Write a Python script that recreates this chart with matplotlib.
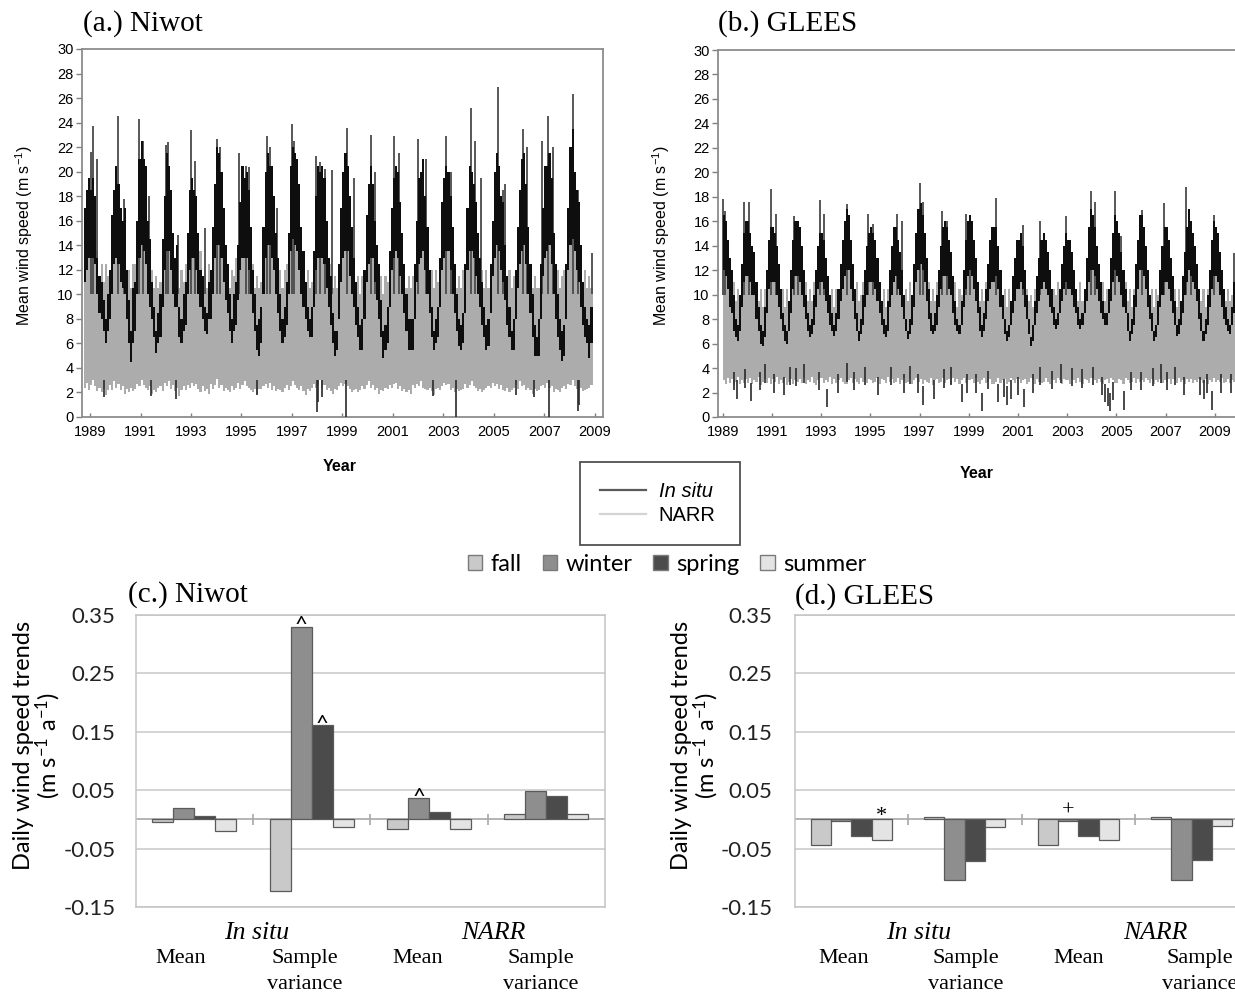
import numpy as np
import matplotlib
matplotlib.use("Agg")
import matplotlib.pyplot as plt
from matplotlib.patches import Patch
from matplotlib.lines import Line2D

plt.rcParams['font.family'] = ['Liberation Sans', 'DejaVu Sans']
plt.rcParams['axes.unicode_minus'] = False

# ---------------------------------------------------------------------------
# Daily wind speed at Niwot (monthly envelopes of the daily series, m/s).
# Rows are water years (Oct..Sep), first row starts October 1988.
# ---------------------------------------------------------------------------
niwot_start = 1988.75
niwot_insitu_hi = [
    [17, 18.5, 19.5, 18.5, 19.5, 18, 13, 11.5, 11, 9.5, 8, 10],
    [12, 16.5, 18.5, 20.5, 19, 17, 16, 17, 12, 9.5, 7, 10.5],
    [11, 16, 21, 22.5, 21, 20.5, 16, 14.5, 11, 9, 7, 8.5],
    [10, 14.5, 18, 21.5, 20.5, 18.5, 15, 13, 14, 9, 8, 10],
    [11, 15, 18.5, 19.5, 18.5, 18, 15, 12, 11.5, 9, 8.5, 11],
    [12, 15.5, 19, 22, 21.5, 20, 17, 14, 12.5, 10, 8, 10],
    [11, 14, 17.5, 20.5, 19.5, 20, 18.5, 15.5, 12, 10, 7.5, 8],
    [9, 15.5, 20, 21.5, 20.5, 20.5, 18, 15, 13, 10, 8, 9],
    [11, 15, 20.5, 22, 21.5, 21, 19, 15.5, 13.5, 11, 9, 8],
    [9, 13.5, 18, 20.5, 20, 20.5, 19.5, 16, 13, 11.5, 8.5, 7],
    [7, 12.5, 17, 20, 21.5, 20.5, 18, 15.5, 13, 11, 9, 7.5],
    [8, 12, 16.5, 19, 20.5, 19, 16, 14, 12.5, 9.5, 7, 7.5],
    [9, 13.5, 17, 19.5, 20.5, 20, 17.5, 15, 12.5, 10, 8, 8],
    [8, 12.5, 16, 19.5, 20, 21, 18, 15.5, 12, 9, 7, 8],
    [9, 13, 17.5, 19.5, 20.5, 20, 18, 15.5, 12.5, 10, 8, 7.5],
    [8.5, 12.5, 17, 20.5, 20, 19, 17.5, 15, 13, 11, 9, 7.5],
    [8, 12.5, 16, 20, 21.5, 20.5, 18, 17.5, 14, 11.5, 9, 7],
    [8, 12, 15.5, 18.5, 21, 21.5, 19, 15.5, 12.5, 10, 7.5, 6.5],
    [8, 12.5, 17, 20.5, 20.5, 21.5, 19.5, 15, 12.5, 10, 8, 7],
    [7.5, 12.5, 17, 22, 23.5, 20, 18.5, 17.5, 14, 11, 9, 8],
    [7.5, 9],
]
niwot_insitu_lo = [
    [11, 12, 13, 13, 13, 12.5, 10, 8.5, 8, 7, 6, 7],
    [8, 10, 12.5, 13, 12.5, 11, 10.5, 10, 8, 6, 4.5, 6],
    [7, 10, 13, 14, 13.5, 12.5, 10, 9, 8, 6.5, 5.2, 6],
    [6.5, 9, 12, 13.5, 13.5, 12, 10, 9, 9, 6.5, 6, 7],
    [7.5, 10, 12, 13, 13, 12, 10, 9, 8, 7, 6.8, 8],
    [8, 10, 13, 14, 14, 13, 11, 9.5, 8.5, 7, 6, 7],
    [7.5, 9.5, 12, 13, 13, 13, 12, 10, 8.5, 7, 5.5, 5],
    [6, 10, 13, 14, 14, 13, 12, 10, 8.5, 7, 6, 6.5],
    [7.5, 10, 13.5, 14.5, 14, 13.5, 12, 10, 9, 8, 7, 6.5],
    [6.5, 9, 12, 13, 13, 13, 12.5, 10.5, 9, 7.5, 6, 5],
    [5.5, 8, 11, 13, 13.5, 13.5, 11.5, 10, 9, 7.5, 6.5, 5.5],
    [5.5, 8, 11, 12.5, 13, 13, 11, 9.5, 8, 6.5, 4.8, 5.5],
    [6, 9, 12, 13, 13.5, 13, 11.5, 10, 8.5, 7, 5.5, 5.5],
    [5.5, 8, 11, 12.5, 13, 13.5, 12, 10, 8.5, 6.5, 5.5, 6],
    [6.5, 9, 12, 13, 13.5, 13.5, 12, 10, 8.5, 7, 5.8, 5.5],
    [6, 8.5, 12, 13.5, 13.5, 13, 11.5, 10, 9, 7.5, 6.5, 5.5],
    [5.8, 8.5, 11.5, 13, 14, 13.5, 12, 11, 9.5, 7.5, 6.5, 5.5],
    [5.5, 8, 10.5, 12.5, 13.5, 14, 12.5, 10, 8.5, 6.5, 5, 5],
    [5, 8, 11.5, 13, 13.5, 14, 12.5, 10, 8, 6.5, 5.5, 4.6],
    [5, 8, 12, 14, 14.5, 13.5, 12, 11, 9, 7.5, 6.5, 6],
    [4.8, 6],
]
niwot_narr_hi = [
    [12.5, 13.5, 13.5, 14, 13.5, 13, 13.5, 11.5, 12.5, 11, 12.5, 11.5],
    [11, 12.5, 13, 14, 13, 12, 11.5, 13, 10.5, 12, 10.5, 12.5],
    [12.5, 11.5, 14, 14.5, 14, 13, 12.5, 11, 12, 10.5, 11.5, 10.5],
    [11, 12.5, 12.5, 14, 14, 12.5, 13, 11, 12.5, 10.5, 12, 11],
    [12.5, 11.5, 13, 13.5, 13.5, 12.5, 11.5, 13.5, 11, 12, 10.5, 12.5],
    [11.5, 13, 13.5, 14.5, 14.5, 13.5, 12.5, 11, 12.5, 10.5, 12, 11.5],
    [13, 12, 13, 13.5, 13.5, 13.5, 12.5, 11.5, 12.5, 10.5, 11.5, 10.5],
    [11, 12.5, 13.5, 14.5, 14.5, 13.5, 12.5, 13, 11, 12, 10.5, 12],
    [12.5, 11.5, 14, 15, 14.5, 14, 12.5, 11.5, 12.5, 11, 12, 10.5],
    [11, 12.5, 12.5, 13.5, 13.5, 13.5, 13, 12.5, 11, 12.5, 10.5, 11.5],
    [10.5, 12.5, 11.5, 13.5, 14, 14, 12.5, 11, 12.5, 10.5, 11.5, 10],
    [11.5, 10.5, 12.5, 13, 13.5, 13.5, 11.5, 12.5, 10.5, 11.5, 10, 11.5],
    [11, 12.5, 12.5, 13.5, 14, 13.5, 12.5, 11, 12, 10.5, 11.5, 10.5],
    [11.5, 10.5, 12.5, 13, 13.5, 14, 12.5, 12.5, 10.5, 12, 10.5, 12],
    [11, 12.5, 12.5, 13.5, 14, 14, 12.5, 11, 12.5, 10.5, 11.5, 10.5],
    [12, 11, 12.5, 14, 14, 13.5, 12, 12.5, 11, 12, 10.5, 12],
    [10.5, 12.5, 12, 13.5, 14.5, 14, 12.5, 11.5, 12.5, 11, 12, 10.5],
    [11.5, 10.5, 12.5, 13, 14, 14.5, 13, 11, 12.5, 10.5, 11.5, 10.5],
    [10.5, 12.5, 12, 13.5, 14, 14.5, 13, 12.5, 11, 12, 10.5, 11.5],
    [12, 11, 12.5, 14.5, 15, 14, 12.5, 11.5, 12.5, 11, 12, 10.5],
    [11.5, 10.5],
]
niwot_narr_lo = [
    [2.4, 2.8, 2.2, 2.6, 3.0, 2.5, 2.1, 2.4, 2.0, 2.3, 1.8, 2.2],
    [2.6, 2.2, 2.9, 2.4, 2.7, 2.2, 2.5, 1.9, 2.3, 2.0, 2.4, 2.1],
    [2.3, 2.7, 2.5, 3.0, 2.6, 2.4, 2.2, 2.5, 1.9, 2.2, 2.0, 2.4],
    [2.5, 2.1, 2.8, 2.5, 2.9, 2.3, 2.6, 2.1, 2.4, 1.7, 2.2, 2.5],
    [2.2, 2.6, 2.4, 2.8, 2.5, 2.7, 2.3, 2.0, 2.5, 2.1, 2.3, 1.9],
    [2.7, 2.3, 2.6, 3.1, 2.4, 2.6, 2.1, 2.4, 2.2, 2.0, 2.5, 2.2],
    [2.4, 2.8, 2.3, 2.6, 2.9, 2.5, 2.4, 2.2, 2.0, 2.3, 1.9, 2.3],
    [2.3, 2.5, 2.7, 2.4, 2.8, 2.2, 2.5, 2.1, 2.3, 2.2, 2.0, 2.4],
    [2.6, 2.2, 2.5, 2.9, 2.6, 2.4, 2.2, 2.5, 2.1, 1.8, 2.3, 2.1],
    [2.4, 2.7, 2.4, 2.6, 3.0, 2.3, 2.6, 2.2, 2.4, 2.1, 1.9, 2.3],
    [2.2, 2.5, 2.8, 2.5, 2.7, 2.5, 2.3, 2.0, 2.2, 2.3, 2.0, 2.2],
    [2.5, 2.3, 2.6, 2.9, 2.4, 2.6, 2.2, 2.4, 1.9, 2.2, 2.1, 2.4],
    [2.3, 2.6, 2.4, 2.7, 2.8, 2.3, 2.5, 2.1, 2.3, 2.0, 2.2, 1.9],
    [2.6, 2.4, 2.7, 2.5, 2.9, 2.4, 2.3, 2.2, 2.4, 2.1, 1.8, 2.3],
    [2.4, 2.2, 2.5, 2.8, 2.6, 2.7, 2.2, 2.4, 2.0, 2.3, 2.1, 2.2],
    [2.3, 2.7, 2.4, 2.6, 2.9, 2.5, 2.4, 2.1, 2.3, 2.0, 2.2, 2.4],
    [2.5, 2.4, 2.8, 2.5, 2.7, 2.3, 2.6, 2.2, 2.1, 2.4, 2.0, 2.2],
    [2.4, 2.6, 2.3, 2.9, 2.5, 2.6, 2.2, 2.4, 2.2, 1.9, 2.3, 2.1],
    [2.2, 2.5, 2.6, 2.4, 2.8, 2.4, 2.5, 2.0, 2.3, 2.2, 2.0, 2.4],
    [2.5, 2.3, 2.7, 2.6, 3.0, 2.5, 2.3, 2.2, 2.4, 2.1, 2.2, 2.3],
    [2.4, 2.6],
]
# single-day gusts above the monthly band and single-day lows
niwot_gust_dates = [1989.05, 1989.10, 1989.27, 1990.10, 1990.35, 1990.95, 1991.10,
                    1991.35, 1992.00, 1992.10, 1992.50, 1993.00, 1993.15, 1993.55,
                    1994.05, 1994.15, 1994.90, 1995.20, 1995.30, 1996.00, 1996.15,
                    1996.40, 1997.00, 1997.10, 1997.95, 1998.10, 1998.30, 1998.60,
                    1999.20, 1999.45, 2000.15, 2000.30, 2001.05, 2001.25, 2002.00,
                    2002.30, 2003.10, 2003.30, 2004.10, 2004.25, 2004.50, 2005.15,
                    2005.35, 2005.45, 2006.15, 2006.30, 2006.90, 2007.15, 2007.35,
                    2008.15, 2008.35, 2008.90]
niwot_gust_values = [21.6, 23.7, 21.0, 24.5, 17.8, 24.3, 22.5,
                     18.0, 22.2, 22.4, 14.8, 23.4, 20.9, 15.4,
                     22.7, 22.0, 21.5, 20.5, 20.4, 22.9, 22.0,
                     17.0, 23.9, 22.5, 21.3, 20.8, 20.2, 20.1,
                     23.6, 19.5, 23.0, 20.0, 22.9, 21.5, 22.7,
                     21.0, 22.9, 20.0, 25.2, 22.5, 19.5, 26.9,
                     18.5, 19.0, 23.5, 22.0, 22.5, 24.5, 22.0,
                     26.3, 18.5, 13.4]
niwot_low_dates = [1989.55, 1991.40, 1992.40, 1995.60, 1997.99, 1998.05, 1998.20,
                   1999.16, 2002.60, 2003.50, 2005.90, 2006.60, 2007.20, 2008.33,
                   2008.37]
niwot_low_values = [1.6, 1.7, 1.5, 1.8, 0.4, 1.2, 1.6,
                    0.0, 1.7, 0.0, 1.8, 1.6, 0.0, 0.5,
                    1.0]

# ---------------------------------------------------------------------------
# Daily wind speed at GLEES (monthly envelopes, m/s). Rows are Jan..Dec.
# ---------------------------------------------------------------------------
glees_start = 1989.0
glees_insitu_hi = [
    [16.5, 16, 14.5, 13, 12, 10, 8, 7.5, 10, 12.5, 15, 16],
    [16, 15, 14, 13.5, 11, 9, 7.5, 7, 9, 12, 14.5, 15.5],
    [15.5, 15, 14, 12.5, 10.5, 8.5, 7.5, 7, 9.5, 12, 14.5, 16],
    [16, 15.5, 14, 12, 10, 8.5, 7.5, 8, 10, 12, 14, 15],
    [15, 14.5, 13, 11.5, 10, 8.5, 7.5, 8.5, 10.5, 12.5, 14.5, 16],
    [17, 16.5, 14.5, 12.5, 10.5, 8.5, 7, 8, 10, 12, 14, 15],
    [15.5, 15, 14.5, 13, 11, 9.5, 8, 7.5, 9.5, 12, 14, 15.5],
    [15.5, 14.5, 13.5, 12, 10, 8, 7, 8, 10, 12.5, 15, 17],
    [17.5, 16.5, 15, 13, 10.5, 8.5, 7.5, 8.5, 10, 12, 14, 15.5],
    [16, 15.5, 14.5, 13.5, 11.5, 9.5, 8, 7.5, 9.5, 12, 14.5, 16],
    [16.5, 16, 14.5, 13, 11, 9, 7.5, 8.5, 10.5, 12.5, 14.5, 15.5],
    [15.5, 15.5, 14, 12, 10, 8, 7, 7.5, 9.5, 11.5, 13, 14.5],
    [14.5, 15, 14, 12, 10, 8, 6.5, 7.5, 9.5, 11.5, 13, 14.5],
    [15, 14.5, 13.5, 12, 10.5, 9, 8, 8.5, 10.5, 12.5, 14, 15],
    [14.5, 14.5, 13.5, 12, 10.5, 9, 8, 8.5, 10.5, 13, 15.5, 17],
    [16.5, 15.5, 14, 12.5, 11, 9.5, 8.5, 8.5, 10.5, 13, 15, 16.5],
    [16, 15, 13.5, 12, 10.5, 8.5, 7, 8, 10, 12.5, 14.5, 16.5],
    [16.5, 15.5, 14, 12, 10, 8.5, 7, 7.5, 9.5, 12, 14, 15.5],
    [15.5, 14.5, 13, 11.5, 9.5, 7.5, 8, 9.5, 11.5, 13.5, 15.5, 17],
    [16, 15, 14, 12.5, 10.5, 8.5, 7, 8, 10, 12, 14.5, 16],
    [15.5, 15, 13.5, 12, 10.5, 9, 8, 7.5, 9, 11, 13, 14.5],
]
glees_insitu_lo = [
    [12, 11.5, 10.5, 9, 8.5, 7, 6.5, 6.2, 7, 9, 11, 11.5],
    [11.5, 11, 10, 10, 8, 7, 6, 5.8, 6.5, 8.5, 10.5, 11],
    [11, 11, 10, 9, 8, 7, 6.2, 6, 7, 8.5, 10.5, 11.5],
    [11.5, 11, 10, 9, 8, 7, 6.5, 6.8, 7.5, 9, 10.5, 11],
    [11, 10.5, 9.5, 8.5, 7.5, 7, 6.6, 7, 8, 9.5, 10.5, 11.5],
    [12, 12, 10.5, 9.5, 8, 7, 6.2, 6.8, 7.5, 9, 10, 11],
    [11, 11, 10.5, 9.5, 8.5, 7.5, 6.8, 6.5, 7, 9, 10, 11],
    [11.5, 10.5, 10, 9, 8, 7, 6.4, 6.8, 7.5, 9, 11, 12],
    [12.5, 12, 11, 9.5, 8, 7, 6.8, 7, 7.5, 9, 10.5, 11.5],
    [11.5, 11.5, 10.5, 10, 8.5, 7.5, 7, 6.8, 7.5, 9, 10.5, 11.5],
    [12, 11.5, 10.5, 9.5, 8.5, 7, 6.5, 7, 8, 9.5, 10.5, 11],
    [11, 11.5, 10.5, 9, 8, 6.8, 6.2, 6.5, 7.5, 8.5, 9.5, 10.5],
    [10.5, 11, 10.5, 9, 8, 6.8, 5.8, 6.2, 7.5, 8.5, 9.5, 10.5],
    [11, 10.5, 10, 9, 8.5, 7.5, 7.2, 7.5, 8.5, 9.5, 10.5, 11],
    [10.5, 10.5, 10, 9, 8.5, 7.5, 7.2, 7.5, 8.5, 9.5, 11, 12],
    [12, 11.5, 10.5, 9.5, 8.5, 8, 7.5, 7.5, 8.5, 9.5, 11, 12],
    [11.5, 11, 10, 9, 8.5, 7, 6.2, 6.8, 7.5, 9, 10.5, 12],
    [12, 11.5, 10.5, 9, 8, 7, 6.2, 6.5, 7.5, 9, 10, 11],
    [11, 10.5, 9.5, 8.5, 7.5, 6.6, 6.8, 7.5, 8.5, 10, 11, 12],
    [11.5, 11, 10.5, 9.5, 8, 7, 6.2, 6.8, 7.5, 9, 10.5, 11.5],
    [11.5, 11, 10, 9, 8, 7.5, 7, 6.8, 7.5, 8.5, 9.5, 10.5],
]
glees_narr_hi = [
    [12.5, 12, 11, 11.5, 10, 11, 9.5, 10.5, 9.5, 11.5, 11.5, 12.5],
    [12, 11.5, 11.5, 10.5, 11, 9.5, 10.5, 9, 10.5, 10, 11.5, 11.5],
    [11.5, 12, 10.5, 11.5, 9.5, 10.5, 9, 10.5, 9.5, 11, 11, 12.5],
    [12.5, 11.5, 11.5, 10, 11, 9.5, 10.5, 9.5, 11, 10, 11.5, 11.5],
    [11.5, 11.5, 10.5, 11.5, 9.5, 10.5, 9, 10.5, 10, 11.5, 11, 12.5],
    [12.5, 13, 11, 11.5, 10, 11, 9.5, 10, 11, 10, 11, 11.5],
    [12, 11.5, 11.5, 10.5, 11, 9.5, 10.5, 9, 10.5, 11.5, 10.5, 12],
    [12, 11.5, 10.5, 11.5, 9.5, 10.5, 9.5, 11, 9.5, 11, 11.5, 12.5],
    [13, 12.5, 12, 10.5, 11, 9.5, 10.5, 9.5, 11, 10, 11.5, 12],
    [12.5, 12, 11, 11, 10, 11, 9, 10.5, 10, 11.5, 11, 12],
    [12.5, 12, 11.5, 10, 11, 9.5, 10.5, 9.5, 11, 10, 11.5, 11.5],
    [11.5, 12, 11, 11, 9.5, 10.5, 9, 10.5, 9.5, 11, 10, 11.5],
    [11.5, 11.5, 11, 10, 10.5, 9.5, 10, 9, 10.5, 10, 11, 11],
    [11.5, 11.5, 10.5, 11, 9.5, 10.5, 10, 11, 9.5, 11, 11, 12],
    [11.5, 11, 11, 10, 10.5, 9.5, 11, 9.5, 10.5, 10, 11.5, 12.5],
    [12.5, 12, 11, 11, 10, 11, 9.5, 10.5, 10, 11, 11.5, 12.5],
    [12, 11.5, 11, 10, 11, 9.5, 10.5, 9, 10.5, 10, 11.5, 12.5],
    [12.5, 12, 11, 11, 9.5, 10.5, 9, 10.5, 10, 11, 10.5, 12],
    [12, 11, 11, 10, 10.5, 9, 10.5, 9.5, 11, 10.5, 11.5, 12.5],
    [12, 12, 11, 10.5, 10.5, 9.5, 10.5, 9, 10.5, 10, 11.5, 12],
    [12.5, 11.5, 11, 10, 10.5, 9.5, 10.5, 9.5, 10, 10.5, 10.5, 11.5],
]
glees_narr_lo = [
    [3.0, 2.7, 3.2, 2.8, 3.1, 2.6, 2.9, 3.3, 2.7, 3.0, 2.8, 3.1],
    [2.8, 3.2, 2.7, 3.0, 2.9, 3.3, 2.6, 2.9, 3.1, 2.8, 3.2, 2.7],
    [3.1, 2.9, 3.3, 2.7, 3.0, 2.8, 3.2, 2.6, 2.9, 3.1, 2.7, 3.0],
    [2.9, 3.1, 2.8, 3.2, 2.7, 3.0, 2.9, 3.3, 2.8, 2.6, 3.0, 3.2],
    [3.2, 2.8, 3.0, 2.9, 3.3, 2.7, 3.1, 2.8, 3.0, 3.2, 2.9, 2.7],
    [2.7, 3.0, 3.2, 2.8, 3.1, 2.9, 2.7, 3.2, 2.9, 3.0, 2.8, 3.1],
    [3.0, 2.8, 2.9, 3.2, 2.7, 3.1, 3.0, 2.8, 3.3, 2.9, 3.1, 2.8],
    [2.9, 3.2, 2.7, 3.0, 3.2, 2.8, 2.9, 3.1, 2.7, 3.0, 3.2, 2.9],
    [3.1, 2.7, 3.0, 2.9, 2.8, 3.2, 2.6, 3.0, 3.1, 2.8, 2.9, 3.2],
    [2.8, 3.0, 3.1, 2.7, 3.2, 2.9, 3.1, 2.7, 3.0, 3.2, 2.8, 3.0],
    [3.0, 3.1, 2.8, 3.2, 2.9, 2.7, 3.0, 3.2, 2.8, 2.9, 3.1, 2.7],
    [2.7, 2.9, 3.2, 2.8, 3.0, 3.1, 2.7, 2.9, 3.2, 3.0, 2.8, 3.1],
    [3.1, 2.8, 3.0, 3.1, 2.7, 2.9, 3.2, 3.0, 2.7, 3.1, 2.9, 2.8],
    [2.9, 3.2, 2.9, 2.7, 3.1, 3.0, 2.8, 3.2, 3.0, 2.7, 3.1, 3.0],
    [3.0, 2.7, 3.1, 3.0, 2.8, 3.2, 2.9, 2.7, 3.1, 3.0, 2.8, 3.2],
    [3.2, 3.0, 2.8, 3.1, 2.9, 2.7, 3.0, 3.1, 2.8, 3.2, 3.0, 2.8],
    [2.8, 3.1, 3.0, 2.7, 3.2, 3.0, 2.8, 2.9, 3.2, 2.8, 3.1, 2.9],
    [3.0, 2.9, 3.2, 3.0, 2.8, 3.1, 2.7, 3.0, 2.9, 3.1, 2.8, 3.0],
    [2.9, 3.1, 2.7, 3.1, 3.0, 2.8, 3.2, 2.9, 3.0, 2.7, 3.1, 2.9],
    [3.1, 2.8, 3.0, 2.9, 3.1, 3.0, 2.8, 3.1, 2.7, 3.0, 2.9, 3.2],
    [2.9, 3.0, 2.9, 3.2, 2.8, 2.9, 3.1, 2.8, 3.0, 2.9, 3.1, 3.0],
]
glees_gust_dates = [1989.02, 1989.10, 1989.85, 1990.05, 1990.95, 1991.15, 1991.90,
                    1992.05, 1992.95, 1993.10, 1994.05, 1994.90, 1995.10, 1996.10,
                    1996.30, 1997.00, 1997.15, 1997.90, 1998.10, 1998.90, 1999.05,
                    2000.10, 2001.20, 2001.90, 2002.95, 2003.95, 2004.15, 2004.95,
                    2005.20, 2006.05, 2006.95, 2007.85, 2008.05, 2008.95, 2009.80]
glees_gust_values = [17.8, 16.8, 17.6, 17.6, 18.6, 16.6, 16.4,
                     16.0, 17.7, 16.6, 17.4, 16.6, 15.8, 16.6,
                     16.0, 19.1, 17.6, 16.8, 16.0, 16.6, 16.2,
                     17.9, 15.7, 16.0, 16.4, 18.5, 17.6, 18.5,
                     14.8, 16.9, 17.5, 18.8, 15.5, 16.5, 13.4]
glees_low_dates = [1989.45, 1989.60, 1989.92, 1990.15, 1990.50, 1990.70, 1991.10,
                   1991.50, 1991.75, 1992.00, 1992.30, 1992.90, 1993.25, 1993.70,
                   1994.05, 1994.35, 1994.80, 1995.30, 1995.85, 1996.35, 1996.60,
                   1996.95, 1997.15, 1997.60, 1998.00, 1998.30, 1998.72, 1998.93,
                   1999.30, 1999.55, 1999.80, 2000.20, 2000.45, 2000.55, 2000.70,
                   2001.00, 2001.25, 2001.60, 2001.90, 2002.40, 2002.75, 2003.20,
                   2003.60, 2004.05, 2004.40, 2004.55, 2004.65, 2004.75, 2004.85,
                   2005.30, 2005.60, 2006.00, 2006.50, 2006.80, 2007.05, 2007.40,
                   2007.75, 2008.40, 2008.55, 2008.70, 2008.90, 2009.25, 2009.65]
glees_low_values = [2.2, 1.5, 2.4, 1.3, 2.2, 2.8, 2.0,
                    1.8, 2.6, 2.5, 2.8, 2.2, 0.8, 2.0,
                    2.9, 2.2, 2.6, 1.8, 2.6, 2.0, 2.7,
                    2.0, 1.0, 1.5, 2.4, 2.6, 1.2, 2.0,
                    2.0, 0.5, 2.3, 1.2, 1.6, 1.0, 1.5,
                    1.8, 0.8, 2.0, 2.6, 2.3, 2.8, 2.5,
                    2.4, 2.6, 1.8, 1.2, 0.9, 0.5, 1.4,
                    0.6, 2.2, 2.2, 2.5, 2.8, 2.2, 2.6,
                    1.8, 1.8, 1.5, 2.0, 0.6, 2.0, 2.0]

year_ticks = list(range(1989, 2010, 2))
speed_ticks = list(range(0, 31, 2))

# ---------------------------------------------------------------------------
# Seasonal trends (m s-1 a-1): groups = in situ mean, in situ sample variance,
# NARR mean, NARR sample variance
# ---------------------------------------------------------------------------
seasons = ['fall', 'winter', 'spring', 'summer']
season_colors = ['#c9c9c9', '#8e8e8e', '#4b4b4b', '#e4e4e4']
group_labels = ['Mean', 'Sample', 'Mean', 'Sample']
source_labels = ['In situ', 'NARR']
niwot_fall = [-0.004, -0.122, -0.016, 0.010]
niwot_winter = [0.019, 0.330, 0.036, 0.049]
niwot_spring = [0.006, 0.161, 0.013, 0.040]
niwot_summer = [-0.020, -0.013, -0.016, 0.010]
glees_fall = [-0.044, 0.004, -0.044, 0.004]
glees_winter = [-0.003, -0.103, -0.003, -0.103]
glees_spring = [-0.029, -0.071, -0.029, -0.070]
glees_summer = [-0.035, -0.013, -0.035, -0.012]
# significance symbols: (group, season index, symbol)
niwot_marks = [(1, 1, '^'), (1, 2, '^'), (2, 1, '^')]
glees_marks = [(0, 3, '*'), (2, 1, '+')]
trend_ticks = [-0.15, -0.05, 0.05, 0.15, 0.25, 0.35]

# ---------------------------------------------------------------------------
W, H = 1235, 996
fig = plt.figure(figsize=(W / 100, H / 100), dpi=100)


def fx(px):
    return px / W


def fy(py):
    return 1 - py / H


def flat(rows):
    return np.array([v for r in rows for v in r], dtype=float)


def band(ax, start, lo_rows, hi_rows, color, z):
    lo, hi = flat(lo_rows), flat(hi_rows)
    edges = start + np.arange(lo.size + 1) / 12.0
    ax.fill_between(edges, np.append(lo, lo[-1]), np.append(hi, hi[-1]),
                    step='post', color=color, lw=0, zorder=z)


def series_panel(rect, xlim, start, ins_lo, ins_hi, nr_lo, nr_hi,
                 g_dates, g_vals, l_dates, l_vals, low_tops):
    ax = fig.add_axes(rect)
    band(ax, start, nr_lo, nr_hi, '#acacac', 1)
    ax.vlines(g_dates, 10, g_vals, color='#4a4a4a', lw=1.3, zorder=2)
    band(ax, start, ins_lo, ins_hi, '#0e0e0e', 3)
    ax.vlines(l_dates, l_vals, low_tops, color='#2a2a2a', lw=1.2, zorder=4)
    ax.set_xlim(*xlim)
    ax.set_ylim(0, 30)
    ax.set_xticks(year_ticks)
    ax.set_yticks(speed_ticks)
    ax.tick_params(axis='y', direction='out', length=4, width=1,
                   color='#808080', labelsize=10.5, pad=2)
    ax.tick_params(axis='x', direction='in', length=3, width=1,
                   color='#808080', labelsize=10.5, pad=6)
    for s in ax.spines.values():
        s.set_color('#8c8c8c')
        s.set_linewidth(1.3)
    return ax


series_panel([fx(82), fy(417), (603 - 82) / W, (417 - 49) / H], (1988.68, 2009.33),
             niwot_start, niwot_insitu_lo, niwot_insitu_hi, niwot_narr_lo, niwot_narr_hi,
             niwot_gust_dates, niwot_gust_values, niwot_low_dates, niwot_low_values, 3.0)
series_panel([fx(718), fy(417), (1262 - 718) / W, (417 - 50) / H], (1988.81, 2010.92),
             glees_start, glees_insitu_lo, glees_insitu_hi, glees_narr_lo, glees_narr_hi,
             glees_gust_dates, glees_gust_values, glees_low_dates, glees_low_values,
             np.add(glees_low_values, 1.5))

ylab_ts = r'Mean wind speed (m s$\mathregular{^{-1}}$)'
fig.text(fx(24), fy(236), ylab_ts, rotation=90, ha='center', va='center', fontsize=11.5)
fig.text(fx(661), fy(236), ylab_ts, rotation=90, ha='center', va='center', fontsize=11.5)
fig.text(fx(340), fy(466), 'Year', ha='center', va='center', fontsize=11.5, fontweight='bold')
fig.text(fx(977), fy(473), 'Year', ha='center', va='center', fontsize=11.5, fontweight='bold')

serif = 'Liberation Serif'
fig.text(fx(83), fy(24), '(a.) Niwot', family=serif, fontsize=21, va='center')
fig.text(fx(718), fy(24), '(b.) GLEES', family=serif, fontsize=21, va='center')
fig.text(fx(128), fy(595), '(c.) Niwot', family=serif, fontsize=21, va='center')
fig.text(fx(795), fy(597), '(d.) GLEES', family=serif, fontsize=21, va='center')

# ---- legends ---------------------------------------------------------------
leg = fig.legend([Line2D([], [], color='#5a5a5a', lw=1.6),
                  Line2D([], [], color='#d4d4d4', lw=1.6)],
                 ['In situ', 'NARR'], loc='upper left',
                 bbox_to_anchor=(fx(580), fy(542), (740 - 580) / W, (542 - 462) / H),
                 mode='expand', frameon=True, fancybox=False,
                 edgecolor='#505050', framealpha=1,
                 prop={'family': 'Liberation Sans', 'size': 14.5},
                 handlelength=2.3, handletextpad=0.6, borderpad=1.0,
                 labelspacing=0.25, borderaxespad=0)
leg.get_texts()[0].set_style('italic')
leg.get_frame().set_linewidth(1.3)

season_handles = [Patch(facecolor=c, edgecolor='#7a7a7a', lw=1) for c in season_colors]
fig.legend(season_handles, seasons, loc='center', bbox_to_anchor=(fx(667), fy(564)),
           ncol=4, frameon=False, prop={'family': ['Lato', 'DejaVu Sans'], 'size': 17},
           handlelength=0.6, handleheight=0.6, handletextpad=0.35,
           columnspacing=0.9, borderaxespad=0, borderpad=0)

# ---- trend bar panels --------------------------------------------------------
bar_w = 0.179
offsets = (np.arange(4) - 1.5) * bar_w


def trend_panel(rect, values, marks, pad_pt, src_x, grp_x):
    ax = fig.add_axes(rect)
    cats = np.arange(4)
    for k, (vals, col) in enumerate(zip(values, season_colors)):
        ax.bar(cats + offsets[k], vals, width=bar_w, color=col,
               edgecolor='#5a5a5a', linewidth=0.9, zorder=3)
    ax.axhline(0, color='#a8a8a8', lw=1.2, zorder=2)
    ax.vlines(cats[:-1] + 0.5, -0.0095, 0.0095, color='#a8a8a8', lw=1.2, zorder=2)
    ax.set_xlim(-0.5, 3.5)
    ax.set_ylim(-0.15, 0.35)
    ax.set_yticks(trend_ticks)
    ax.set_yticklabels(['%.2f' % t for t in trend_ticks],
                       family=['Lato', 'DejaVu Sans'], fontsize=16, color='#222222')
    ax.set_xticks([])
    ax.tick_params(axis='y', length=0, pad=pad_pt)
    ax.yaxis.grid(True, color='#c8c8c8', lw=1.1)
    ax.set_axisbelow(True)
    for s in ax.spines.values():
        s.set_color('#c4c4c4')
        s.set_linewidth(1.1)
    for g, s_idx, sym in marks:
        v = values[s_idx][g]
        xb = g + offsets[s_idx]
        if sym == '^':
            ax.annotate(sym, (xb, v), xytext=(0, -3), textcoords='offset points',
                        ha='center', va='baseline', fontsize=16,
                        family=['Lato', 'DejaVu Sans'], zorder=5)
        elif sym == '*':
            ax.annotate(sym, (xb, max(v, 0)), xytext=(0, -1), textcoords='offset points',
                        ha='center', va='baseline', fontsize=16, family=serif, zorder=5)
        else:
            ax.annotate(sym, (xb, max(v, 0)), xytext=(0, 3), textcoords='offset points',
                        ha='center', va='baseline', fontsize=16, family=serif, zorder=5)
    tr = ax.get_xaxis_transform()
    for xs, lab in zip(src_x, source_labels):
        ax.text(xs, -0.089, lab, transform=tr, ha='center', va='center',
                family=serif, style='italic', fontsize=18.5)
    for xg, lab in zip(grp_x, group_labels):
        ax.text(xg, -0.175, lab, transform=tr, ha='center', va='center',
                family=serif, fontsize=16)
        if lab == 'Sample':
            ax.text(xg, -0.267, 'variance', transform=tr, ha='center', va='center',
                    family=serif, fontsize=16)
    return ax


trend_panel([fx(135.6), fy(907), (605 - 135.6) / W, 292 / H],
            [niwot_fall, niwot_winter, niwot_spring, niwot_summer], niwot_marks, 14.4,
            [0.53, 2.55], [-0.12, 0.94, 1.9, 2.95])
trend_panel([fx(794.5), fy(907), (1248.5 - 794.5) / W, 292 / H],
            [glees_fall, glees_winter, glees_spring, glees_summer], glees_marks, 16,
            [0.59, 2.68], [-0.07, 1.01, 2.0, 3.07])

ylab_tr = 'Daily wind speed trends\n(m s$\\mathregular{^{-1}}$ a$\\mathregular{^{-1}}$)'
for xc in (38, 696):
    fig.text(fx(xc), fy(745), ylab_tr, rotation=90, ha='center', va='center',
             multialignment='center', family=['Lato', 'DejaVu Sans'], fontsize=17,
             linespacing=1.0)

fig.savefig('out.png', dpi=100)
